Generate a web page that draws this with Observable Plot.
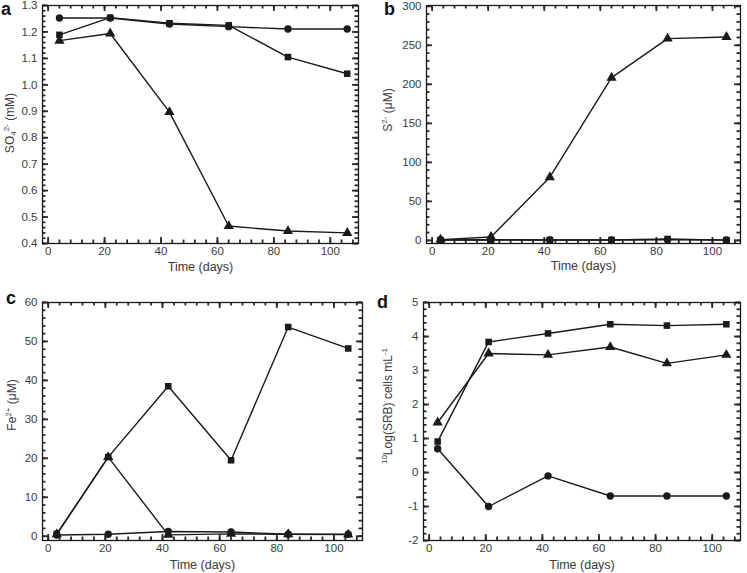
<!DOCTYPE html>
<html><head><meta charset="utf-8">
<script src="https://cdn.jsdelivr.net/npm/d3@7"></script>
<script src="https://cdn.jsdelivr.net/npm/@observablehq/plot@0.6"></script>
<style>
body{margin:0;background:#fff;}
#root{position:relative;width:747px;height:573px;overflow:hidden;font-family:"Liberation Sans",Arial,sans-serif;}
.panel{position:absolute;}
.letter{position:absolute;font:bold 18px/18px "Liberation Sans",Arial,sans-serif;color:#111;}
.ylab{position:absolute;transform:translate(-50%,-50%) rotate(-90deg);white-space:nowrap;font-size:12px;line-height:14px;color:#3a3a3a;}
.ylab sup,.ylab sub{font-size:8px;line-height:0;}
.ylab sup{vertical-align:5px;}
.ylab sub{vertical-align:-2px;}
</style></head><body><div id="root"></div>
<script>
// ---- data ----
const daysA = [4, 22, 43, 64, 85, 106];
const days = [3, 21, 42, 64, 84, 105];

const so4Circle   = [1.253, 1.253, 1.230, 1.220, 1.211, 1.211];
const so4Square   = [1.189, 1.254, 1.233, 1.225, 1.105, 1.042];
const so4Triangle = [1.167, 1.194, 0.897, 0.466, 0.447, 0.440];

const s2Circle   = [0.5, 0.5, 0.5, 0.5, 0.8, 0.5];
const s2Square   = [0.5, 0.8, 0.5, 0.5, 1.8, 0.3];
const s2Triangle = [1.0, 4.3, 81, 208.5, 258.5, 260.7];

const feCircle   = [0.3, 0.5, 1.2, 1.1, 0.5, 0.5];
const feSquare   = [0.6, 20.3, 38.5, 19.5, 53.7, 48.2];
const feTriangle = [0.5, 20.3, 0.35, 0.6, 0.5, 0.4];

const srbCircle   = [0.70, -1.0, -0.1, -0.69, -0.69, -0.69];
const srbSquare   = [0.91, 3.84, 4.09, 4.36, 4.32, 4.36];
const srbTriangle = [1.47, 3.50, 3.46, 3.69, 3.21, 3.46];

const xTicks = [0, 20, 40, 60, 80, 100];
const xLabel = "Time (days)";

const panels = [
  {letter: "a", x: daysA, tri: so4Triangle, sq: so4Square, ci: so4Circle,
   yLabel: "SO<sub>4</sub><sup>2-</sup> (mM)", yTicks: [0.4,0.5,0.6,0.7,0.8,0.9,1.0,1.1,1.2,1.3], yStep: 0.02, yDomain: [0.4, 1.3], fmt: d3.format(".1f")},
  {letter: "b", x: days, tri: s2Triangle, sq: s2Square, ci: s2Circle,
   yLabel: "S<sup>2-</sup> (μM)", yTicks: [0,50,100,150,200,250,300], yStep: 10, yDomain: [-4, 301], fmt: d => String(d)},
  {letter: "c", x: days, tri: feTriangle, sq: feSquare, ci: feCircle,
   yLabel: "Fe<sup>2+</sup> (μM)", yTicks: [0,10,20,30,40,50,60], yStep: 2, yDomain: [-1.1, 60], fmt: d => String(d)},
  {letter: "d", x: days, tri: srbTriangle, sq: srbSquare, ci: srbCircle,
   yLabel: "<sup>10</sup>Log(SRB) cells mL<sup>-1</sup>", yTicks: [-2,-1,0,1,2,3,4,5], yStep: 0.2, yDomain: [-2, 5], fmt: d => String(d)}
];

const xDomain = [-2, 110];

// ---- layout ----
const layout = [
  {left: 0,   top: 0,   width: 373, height: 283, mt: 5,  mr: 15, mb: 40, ml: 42, ylab: [10, 123],  xlOff: 27, letterPos: [1, 0]},
  {left: 373, top: 0,   width: 374, height: 283, mt: 5,  mr: 7,  mb: 40, ml: 53, ylab: [388, 110], xlOff: 26, letterPos: [384, 0]},
  {left: 0,   top: 283, width: 373, height: 290, mt: 19, mr: 11, mb: 33, ml: 42, ylab: [12, 405],  xlOff: 28, letterPos: [6, 289]},
  {left: 373, top: 283, width: 374, height: 290, mt: 19, mr: 7,  mb: 33, ml: 50, ylab: [388, 406], xlOff: 28, letterPos: [377, 293]}
];

const root = document.getElementById("root");
const ink = "#1a1a1a";
const textInk = "#3a3a3a";
const tickInk = "#2a2a2a";

panels.forEach((p, i) => {
  const L = layout[i];
  const fw = L.width - L.ml - L.mr, fh = L.height - L.mt - L.mb;
  const pxX = (xDomain[1] - xDomain[0]) / fw;
  const pxY = (p.yDomain[1] - p.yDomain[0]) / fh;
  const [y0, y1] = p.yDomain, [x0, x1] = xDomain;
  const xMinor = d3.range(0, 110, 4);
  const yMinor = d3.range(Math.ceil(p.yDomain[0] / p.yStep - 1e-9), Math.floor(p.yDomain[1] / p.yStep + 1e-9) + 1).map(k => +(k * p.yStep).toFixed(6));
  const rows = (ys) => p.x.map((x, j) => ({x, y: ys[j]}));
  const triRows = rows(p.tri), sqRows = rows(p.sq), ciRows = rows(p.ci);
  const tickMarks = (xs, ys, len, sw) => {
    const ts = {stroke: tickInk, strokeWidth: sw};
    return [
      Plot.ruleX(xs, {x: d => d, y1: y0, y2: y0 + len * pxY, ...ts}),
      Plot.ruleX(xs, {x: d => d, y1: y1, y2: y1 - len * pxY, ...ts}),
      Plot.ruleY(ys, {y: d => d, x1: x0, x2: x0 + len * pxX, ...ts}),
      Plot.ruleY(ys, {y: d => d, x1: x1, x2: x1 - len * pxX, ...ts})
    ];
  };
  const chart = Plot.plot({
    width: L.width, height: L.height,
    marginTop: L.mt, marginRight: L.mr, marginBottom: L.mb, marginLeft: L.ml,
    style: {fontFamily: '"Liberation Sans", Arial, sans-serif', fontSize: "11px", color: textInk, background: "white"},
    x: {domain: xDomain},
    y: {domain: p.yDomain},
    marks: [
      ...tickMarks(xMinor, yMinor, 3.5, 1.8),
      ...tickMarks(xTicks, p.yTicks, 6, 1.8),
      Plot.axisX(xTicks, {tickSize: 0, tickPadding: 3, label: null, fontSize: 11.5}),
      Plot.axisY(p.yTicks, {tickSize: 0, tickPadding: 5, label: null, tickFormat: p.fmt, fontSize: 11.5}),
      Plot.text([xLabel], {frameAnchor: "bottom", dy: L.xlOff, text: d => d, fontSize: 12.5, fill: textInk}),
      // series
      Plot.line(triRows, {x: "x", y: "y", stroke: ink, strokeWidth: 1.4}),
      Plot.line(sqRows, {x: "x", y: "y", stroke: ink, strokeWidth: 1.4}),
      Plot.line(ciRows, {x: "x", y: "y", stroke: ink, strokeWidth: 1.4}),
      Plot.dot(triRows, {x: "x", y: "y", symbol: "triangle", r: 3.8, fill: ink, stroke: "none"}),
      Plot.dot(sqRows, {x: "x", y: "y", symbol: "square", r: 3.7, fill: ink, stroke: "none"}),
      Plot.dot(ciRows, {x: "x", y: "y", symbol: "circle", r: 3.7, fill: ink, stroke: "none"}),
      Plot.frame({stroke: ink, strokeWidth: 1.3})
    ]
  });
  const wrap = document.createElement("div");
  wrap.className = "panel";
  wrap.style.left = L.left + "px";
  wrap.style.top = L.top + "px";
  wrap.appendChild(chart);
  root.appendChild(wrap);
  const ylab = document.createElement("div");
  ylab.className = "ylab";
  ylab.innerHTML = p.yLabel;
  ylab.style.left = L.ylab[0] + "px";
  ylab.style.top = L.ylab[1] + "px";
  root.appendChild(ylab);
  const letter = document.createElement("div");
  letter.className = "letter";
  letter.textContent = p.letter;
  letter.style.left = L.letterPos[0] + "px";
  letter.style.top = L.letterPos[1] + "px";
  root.appendChild(letter);
});
</script></body></html>
